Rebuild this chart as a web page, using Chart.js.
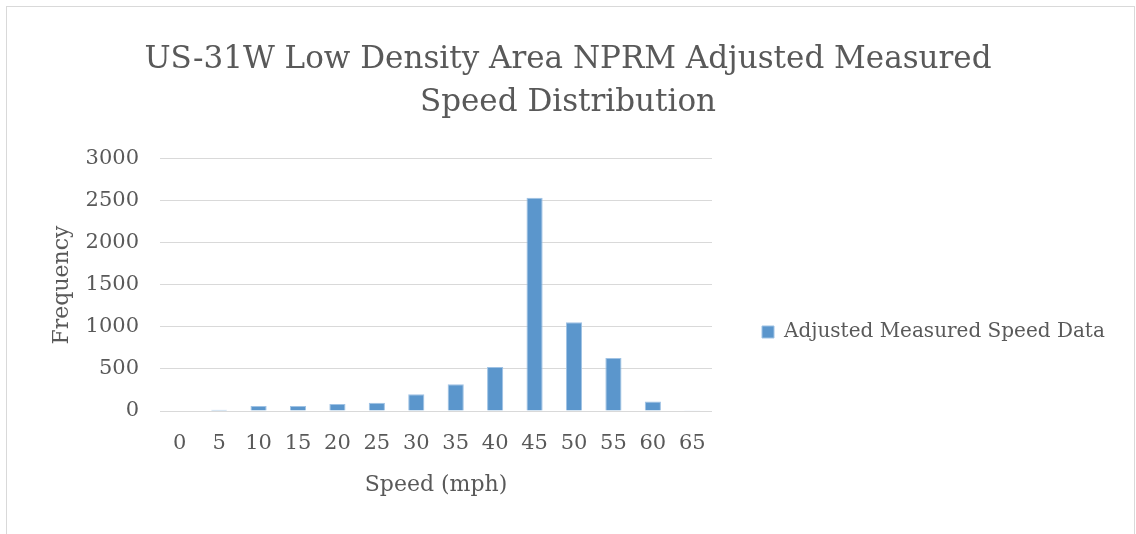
<!DOCTYPE html>
<html>
<head>
<meta charset="utf-8">
<script src="https://cdn.jsdelivr.net/npm/chart.js@4/dist/chart.umd.min.js"></script>
<style>
  html, body { margin: 0; padding: 0; background: #fff; }
  #wrap { position: relative; width: 1136px; height: 534px; overflow: hidden; }
  #frame { position: absolute; left: 6px; top: 6px; width: 1129px; height: 600px; border: 1px solid #d9d9d9; box-sizing: border-box; }
  canvas { position: absolute; left: 0; top: 0; }
</style>
</head>
<body>
<div id="wrap">
  <div id="frame"></div>
  <canvas id="c" width="1136" height="534"></canvas>
</div>
<script>
const titleLines = ['US-31W Low Density Area NPRM Adjusted Measured', 'Speed Distribution'];
const speeds = ['0', '5', '10', '15', '20', '25', '30', '35', '40', '45', '50', '55', '60', '65'];
const frequency = [0, 16, 60, 60, 83, 99, 199, 319, 524, 2540, 1056, 632, 112, 8];
const seriesName = 'Adjusted Measured Speed Data';
const xTitle = 'Speed (mph)';
const yTitle = 'Frequency';
const yMin = 0, yMax = 3000, yStep = 500;

const FONT = 'DejaVu Serif';
const TEXT = '#595959';
const GRID = '#d9d9d9';

const legendLayout = {
  id: 'legendLayout',
  beforeLayout(chart) {
    const l = chart.legend;
    if (l && !l._patched) {
      const fit = l.fit.bind(l);
      l.fit = function () { fit(); this.width = 424; };
      l._patched = true;
    }
  },
  afterLayout(chart) {
    const l = chart.legend;
    if (l) { l.top += 47; l.bottom += 47; }
  }
};

new Chart(document.getElementById('c'), {
  type: 'bar',
  data: {
    labels: speeds,
    datasets: [{
      label: seriesName,
      data: frequency,
      backgroundColor: '#5B96CC',
      borderColor: '#9fc2e4',
      borderWidth: 1,
      categoryPercentage: 1,
      barPercentage: 0.41
    }]
  },
  options: {
    responsive: false,
    animation: false,
    devicePixelRatio: 1,
    layout: { padding: { top: 0, bottom: 0, left: 0, right: 0 } },
    plugins: {
      title: {
        display: true,
        text: titleLines,
        color: TEXT,
        font: { family: FONT, size: 31, weight: 'normal', lineHeight: 1.387 },
        padding: { top: 38, bottom: 35 }
      },
      legend: {
        display: true,
        position: 'right',
        fullSize: false,
        align: 'center',
        maxWidth: 600,
        labels: {
          color: TEXT,
          font: { family: FONT, size: 20 },
          boxWidth: 12,
          boxHeight: 12,
          padding: 50
        }
      },
      tooltip: { enabled: false }
    },
    scales: {
      x: {
        grid: { display: false, drawTicks: false },
        border: { display: false },
        ticks: { color: TEXT, font: { family: FONT, size: 21 }, padding: 20, maxRotation: 0, autoSkip: false },
        title: { display: true, text: xTitle, color: TEXT, font: { family: FONT, size: 22 }, padding: { top: 0, bottom: 36 } },
        afterFit(s) { s.height = 123; }
      },
      y: {
        min: yMin, max: yMax,
        grid: { color: GRID, lineWidth: 1, drawTicks: false },
        border: { display: false },
        ticks: { stepSize: yStep, color: TEXT, font: { family: FONT, size: 21 }, padding: 21,
                 callback: (v) => String(v) },
        title: { display: true, text: yTitle, color: TEXT, font: { family: FONT, size: 22 }, padding: { top: 49, bottom: 0 } },
        afterFit(s) { s.width = 160; }
      }
    }
  },
  plugins: [legendLayout]
});
</script>
</body>
</html>
